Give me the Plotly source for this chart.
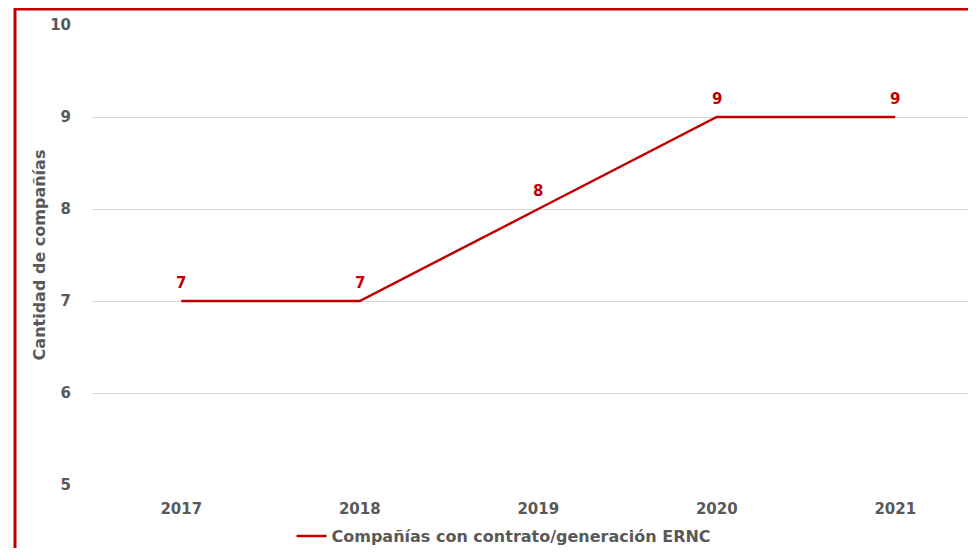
import plotly.graph_objects as go

years = ["2017", "2018", "2019", "2020", "2021"]
companies = [7, 7, 8, 9, 9]
series_name = "Compañías con contrato/generación ERNC"
y_title = "Cantidad de compañías"

RED = "#C00000"
GRAY = "#595959"
FONT = "DejaVu Sans"

# page has an 8px body margin; figure coords = page coords - 8
W, H = 968, 540
ml, mr, mt, mb = 84, 0, 17, 63
pw, ph = W - ml - mr, H - mt - mb
step = 178.5

fig = go.Figure()
fig.add_trace(go.Scatter(
    x=years, y=companies, mode="lines", name=series_name,
    line=dict(color=RED, width=2.5),
))

annotations = [
    dict(x=i, y=v, xref="x", yref="y", text=str(v), showarrow=False,
         yshift=18, font=dict(color=RED, size=15, family=FONT, weight="bold"))
    for i, v in enumerate(companies)
]

fig.update_layout(
    width=W, height=H,
    margin=dict(l=ml, r=mr, t=mt, b=mb, autoexpand=False),
    paper_bgcolor="white", plot_bgcolor="white",
    font=dict(family=FONT, color=GRAY),
    showlegend=True,
    legend=dict(orientation="h", x=(496 - ml) / pw, xanchor="center",
                y=-51 / ph, yanchor="middle", itemwidth=30,
                font=dict(size=16, color=GRAY, family=FONT, weight="bold")),
    xaxis=dict(type="category", range=[-0.5, -0.5 + pw / step],
               showgrid=False, zeroline=False, showline=False, ticks="",
               ticklabelstandoff=13,
               tickfont=dict(size=15, color=GRAY, family=FONT, weight="bold")),
    yaxis=dict(range=[5, 10], dtick=1, showgrid=True, gridcolor="#D9D9D9",
               gridwidth=1, zeroline=False, showline=False, ticks="",
               ticklabelstandoff=20,
               tickfont=dict(size=15, color=GRAY, family=FONT, weight="bold"),
               title=dict(text=y_title, standoff=0,
                          font=dict(size=16, color=GRAY, family=FONT, weight="bold"))),
    annotations=annotations,
    shapes=[dict(type="rect", xref="paper", yref="paper",
                 x0=(7 - ml) / pw, x1=1.3, y0=-0.5, y1=(H - mb - 1) / ph,
                 line=dict(color=RED, width=3), fillcolor="rgba(0,0,0,0)")],
)

fig.write_html("out.html")
